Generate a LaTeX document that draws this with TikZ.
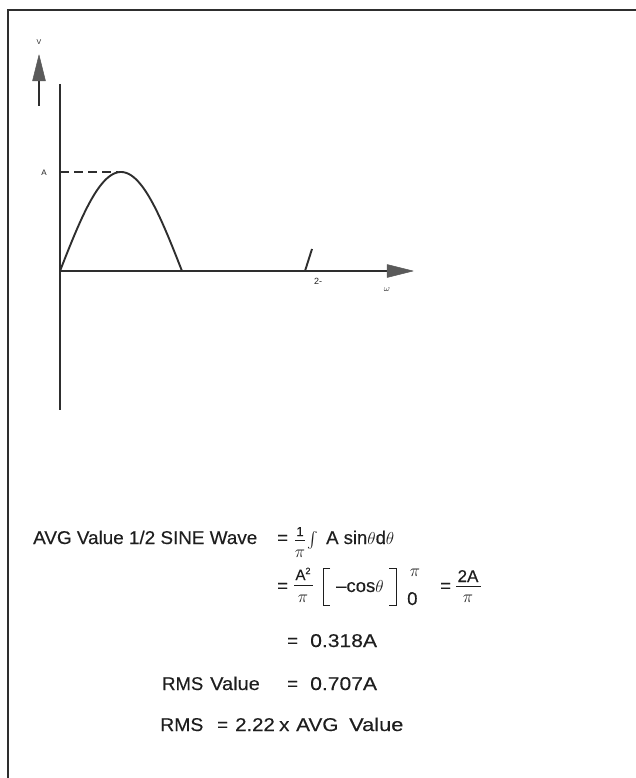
\documentclass[tikz,border=0pt]{standalone}
\usepackage{fontspec}
\setmainfont{Liberation Sans}
\newfontfamily\eqfont[FakeBold=0.3]{Liberation Sans}
\definecolor{ink}{HTML}{1E1E1E}
\definecolor{lineink}{HTML}{2E2E2E}
\definecolor{headgray}{HTML}{5A5A5A}
\begin{document}
\begin{tikzpicture}[x=1pt,y=-1pt,
  axis/.style={draw=lineink,line width=1.9pt},
  frameline/.style={draw=lineink,line width=1.7pt},
  headfill/.style={fill=headgray,draw=headgray,line width=0.5pt,line join=round},
  eq/.style={anchor=base west,inner sep=0pt,text=ink,font=\eqfont\fontsize{18.5}{21}\selectfont\addfontfeature{FakeStretch=#1}},
  eq/.default=1,
  frac/.style={anchor=base,inner sep=0pt,text=ink,font=\eqfont\fontsize{15}{17}\selectfont},
  pifrac/.style={anchor=base,inner sep=0pt,text=ink,font=\fontsize{17}{19}\selectfont},
  tiny lab/.style={inner sep=0pt,text=ink,font=\fontsize{8}{9}\selectfont},
  brack/.style={draw=ink,line width=1pt},
  fracbar/.style={draw=ink,line width=0.9pt}]
\useasboundingbox (0,0) rectangle (636,778);
% frame
\coordinate (fbl) at (8,778);
\coordinate (ftl) at (8,10);
\coordinate (ftr) at (636,10);
\draw[frameline] (fbl) -- (ftl) -- (ftr);
% V arrow
\node[tiny lab,font=\fontsize{7}{8}\selectfont] (vlab) at (39,42) {V};
\coordinate (vtip) at (39,55);
\coordinate (vbase) at (39,81);
\coordinate (vend) at (39,106);
\draw[axis] (vbase) -- (vend);
\fill[headfill] (32.5,81) -- (vtip) -- (45.5,81) -- cycle;
% axes
\coordinate (O) at (60,271);
\coordinate (ytop) at (60,84);
\coordinate (ybot) at (60,410);
\coordinate (xend) at (387,271);
\coordinate (xtip) at (413,271);
\draw[axis] (ytop) -- (ybot);
\draw[axis] (O) -- (xend);
\fill[headfill] (387,264.5) -- (xtip) -- (387,277.5) -- cycle;
% half sine
\draw[axis,line cap=round] plot[domain=0:180,samples=80] ({60+0.67778*\x},{271-99*sin(\x)});
\coordinate (peakL) at (60,172);
\coordinate (peak) at (118,172);
\draw[axis,dash pattern=on 9pt off 5pt] (peakL) -- (peak);
\node[tiny lab] (alab) at (44,173) {A};
% 2pi tick
\coordinate (tk0) at (305,271);
\coordinate (tk1) at (312,249);
\draw[axis] (tk0) -- (tk1);
\node[tiny lab,font=\fontsize{9}{10}\selectfont] (twopi) at (318,281) {2-};
\node[tiny lab,font=\fontsize{9}{10}\selectfont] (omega) at (387,290) {$\omega$};
% line 1
\node[eq=1.02] (l1) at (33,544) {AVG Value 1/2 SINE Wave};
\node[eq] (eq1) at (277,544) {=};
\node[frac,font=\eqfont\fontsize{13}{15}\selectfont] (n1) at (300,536) {1};
\node[pifrac] (d1) at (300,557) {$\pi$};
\coordinate (b1a) at (295,540);
\coordinate (b1b) at (305,540);
\draw[fracbar] (b1a) -- (b1b);
\node[inner sep=0pt,text=ink] (int1) at (313,540) {\scalebox{1.6}{$\int$}};
\node[eq] (asin) at (326,544) {A sin$\theta$d$\theta$};
% line 2
\node[eq] (eq2) at (277,592) {=};
\node[frac] (n2) at (303,580) {A\raisebox{6pt}{\fontsize{9}{10}\selectfont 2}};
\node[pifrac] (d2) at (303,602) {$\pi$};
\coordinate (b2a) at (294,585);
\coordinate (b2b) at (313,585);
\draw[fracbar] (b2a) -- (b2b);
\draw[brack] (330,568) -- (323,568) -- (323,605) -- (330,605);
\node[eq] (cos) at (336,592) {–cos$\theta$};
\draw[brack] (389,568) -- (396,568) -- (396,605) -- (389,605);
\node[pifrac] (upl) at (415,576) {$\pi$};
\node[eq] (lol) at (407,605) {0};
\node[eq] (eq3) at (440,592) {=};
\node[frac,font=\eqfont\fontsize{17}{19}\selectfont] (n3) at (468,582) {2A};
\node[pifrac] (d3) at (468,602) {$\pi$};
\coordinate (b3a) at (456,586);
\coordinate (b3b) at (481,586);
\draw[fracbar] (b3a) -- (b3b);
% line 3
\node[eq] (eq4) at (287,647) {=};
\node[eq=1.14] (v318) at (310,647) {0.318A};
% line 4
\node[eq] (rmsl) at (162,690) {RMS};
\node[eq=1.08] (vall) at (210,690) {Value};
\node[eq] (eq5) at (287,690) {=};
\node[eq=1.14] (v707) at (310,690) {0.707A};
% line 5
\node[eq=1.05] (rms) at (160,731) {RMS};
\node[eq] (eq6) at (217,731) {=};
\node[eq=1.1] (v222) at (235,731) {2.22};
\node[eq=1.1] (times) at (279,731) {x};
\node[eq=1.12] (avg) at (296,731) {AVG};
\node[eq=1.18] (val2) at (349,731) {Value};
\end{tikzpicture}
\end{document}
